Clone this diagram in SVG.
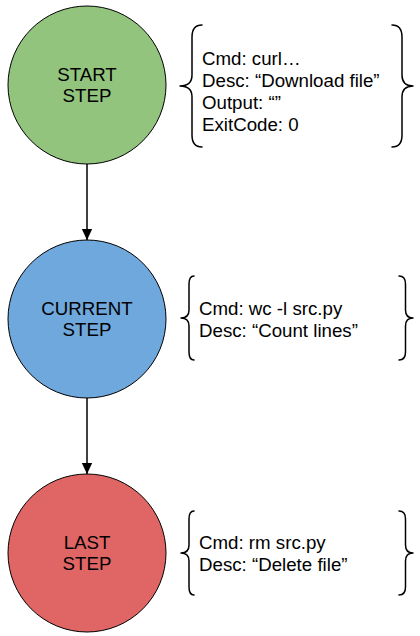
<svg xmlns="http://www.w3.org/2000/svg" width="420" height="636" viewBox="0 0 420 636">
  <style>
    text { font-family: "Liberation Sans", Arial, sans-serif; font-size: 18.7px; fill: #000; }
    .lbl { text-anchor: middle; }
    .node { stroke: #000; stroke-width: 1; }
    .brace { fill: none; stroke: #000; stroke-width: 1.5; stroke-linecap: round; stroke-linejoin: round; }
    .edge { stroke: #000; stroke-width: 1.5; fill: none; }
  </style>
  <defs>
    <marker id="arrow" markerWidth="11" markerHeight="12" refX="10" refY="5" orient="auto" markerUnits="userSpaceOnUse" viewBox="0 0 10 10">
      <path d="M0,0.3 L10,5 L0,9.7 Z" fill="#000"/>
    </marker>
  </defs>
  <rect width="420" height="636" fill="#fff"/>

  <g id="connectors">
    <line class="edge" x1="87" y1="164" x2="87" y2="240" marker-end="url(#arrow)"/>
    <line class="edge" x1="87" y1="398" x2="87" y2="474" marker-end="url(#arrow)"/>
  </g>

  <g id="start-step">
    <circle class="node" cx="87" cy="85" r="79" fill="#93c47d"/>
    <text class="lbl" x="87" y="81">START</text>
    <text class="lbl" x="87" y="102">STEP</text>
  </g>

  <g id="current-step">
    <circle class="node" cx="87" cy="319" r="79" fill="#6fa8dc" stroke-width="2"/>
    <text class="lbl" x="87" y="315">CURRENT</text>
    <text class="lbl" x="87" y="336">STEP</text>
  </g>

  <g id="last-step">
    <circle class="node" cx="87" cy="553" r="79" fill="#e06666"/>
    <text class="lbl" x="87" y="549">LAST</text>
    <text class="lbl" x="87" y="570">STEP</text>
  </g>

  <g id="start-details">
    <path class="brace" d="M202,25 Q192,25 192,37 L192,75 Q192,86 180,86 Q192,86 192,97 L192,135 Q192,147 202,147"/>
    <path class="brace" d="M392,25 Q402,25 402,37 L402,75 Q402,86 413,86 Q402,86 402,97 L402,135 Q402,147 392,147"/>
    <text x="202" y="65">Cmd: curl…</text>
    <text x="202" y="87">Desc: “Download file”</text>
    <text x="202" y="109">Output: “”</text>
    <text x="202" y="131">ExitCode: 0</text>
  </g>

  <g id="current-details">
    <path class="brace" d="M194,276 Q189,276 189,284 L189,310 Q189,318 181,318 Q189,318 189,326 L189,352 Q189,360 194,360"/>
    <path class="brace" d="M399,276 Q405.5,276 405.5,284 L405.5,310 Q405.5,318 413,318 Q405.5,318 405.5,326 L405.5,352 Q405.5,360 399,360"/>
    <text x="199" y="315">Cmd: wc -l src.py</text>
    <text x="199" y="337">Desc: “Count lines”</text>
  </g>

  <g id="last-details">
    <path class="brace" d="M194,511 Q189,511 189,519 L189,545 Q189,553 181,553 Q189,553 189,561 L189,587 Q189,595 194,595"/>
    <path class="brace" d="M399,511 Q405.5,511 405.5,519 L405.5,545 Q405.5,553 413,553 Q405.5,553 405.5,561 L405.5,587 Q405.5,595 399,595"/>
    <text x="199" y="549">Cmd: rm src.py</text>
    <text x="199" y="571">Desc: “Delete file”</text>
  </g>
</svg>
